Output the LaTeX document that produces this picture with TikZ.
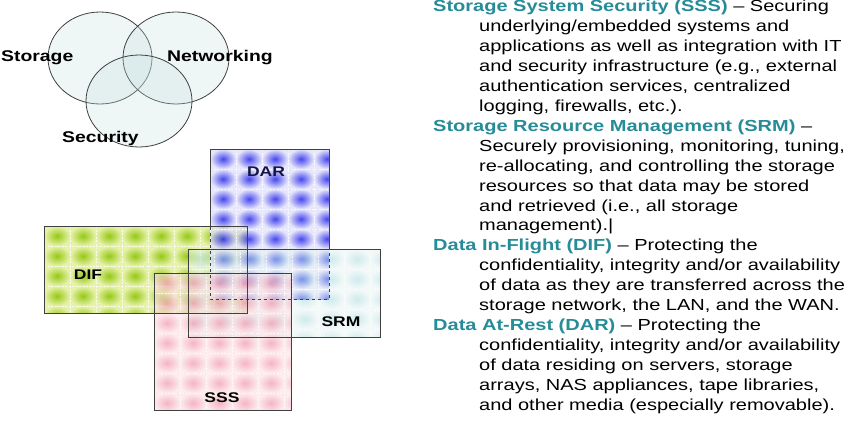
\documentclass[tikz,border=0pt]{standalone}
\usepackage{fontspec}
\setmainfont{Liberation Sans}[FakeStretch=1.25]
\definecolor{headc}{RGB}{38,140,152}
\definecolor{darin}{RGB}{25,25,235}
\definecolor{darout}{RGB}{225,225,250}
\definecolor{difin}{RGB}{150,200,20}
\definecolor{difout}{RGB}{230,242,170}
\definecolor{srmin}{RGB}{160,215,220}
\definecolor{srmout}{RGB}{232,244,244}
\definecolor{sssin}{RGB}{240,140,165}
\definecolor{sssout}{RGB}{252,225,230}
\definecolor{circfill}{RGB}{200,225,225}
\newcommand{\cellpat}[6]{%
  \begin{scope}
    \clip (#1,#2) rectangle (#3,#4);
    \pgfmathtruncatemacro\nxx{ceil((#3-#1)/26)}
    \pgfmathtruncatemacro\nyy{ceil((#4-#2)/20)}
    \foreach \i in {0,...,\nxx}{
      \foreach \j in {0,...,\nyy}{
        \shade[inner color=#5, outer color=#6] ({#1+\i*26},{#2+\j*20}) rectangle ++(26,20);
      }
    }
    \foreach \i in {0,...,\nxx}{
      \draw[white, line width=0.9pt, dash pattern=on 2pt off 1.5pt, opacity=0.75] ({#1+\i*26},#2) -- ({#1+\i*26},#4);
    }
    \foreach \j in {0,...,\nyy}{
      \draw[white, line width=0.9pt, dash pattern=on 2pt off 1.5pt, opacity=0.75] (#1,{#2+\j*20}) -- (#3,{#2+\j*20});
    }
  \end{scope}}
\tikzset{
  body/.style={anchor=base west, inner sep=0pt, font=\fontsize{16}{19.9}\selectfont},
  venn/.style={draw=black!75, line width=0.8pt, fill=circfill, fill opacity=0.28},
  vlabel/.style={inner sep=0pt, anchor=base west, font=\bfseries\fontsize{15.5}{18}\selectfont},
  rlabel/.style={inner sep=0pt, font=\bfseries\fontsize{14}{16}\selectfont},
  rborder/.style={draw=black!75, line width=0.7pt},
}
\newcommand{\hd}[1]{\textcolor{headc}{\bfseries #1}}
\begin{document}
\begin{tikzpicture}[x=1pt,y=-1pt]
\useasboundingbox (0,0) rectangle (864,420);
\fill[white] (0,0) rectangle (864,420);

% Venn circles
\draw[venn] (100,58) ellipse [x radius=52, y radius=46];
\draw[venn] (176,58) ellipse [x radius=53, y radius=46];
\draw[venn] (139,101) ellipse [x radius=53, y radius=46];
\node[vlabel] (storage) at (1,62) {Storage};
\node[vlabel] (networking) at (167,62) {Networking};
\node[vlabel] (security) at (62,142) {Security};

% Rectangles
\cellpat{44}{226}{247}{313}{difin}{difout}
\begin{scope}[opacity=0.8]
\cellpat{210}{149}{329}{299}{darin}{darout}
\end{scope}
\begin{scope}[opacity=0.5]
\cellpat{188}{249}{380}{337}{srmin}{srmout}
\end{scope}
\begin{scope}[opacity=0.65]
\cellpat{154}{273}{291}{410}{sssin}{sssout}
\end{scope}
\draw[rborder] (44,226) rectangle (247,313);
\draw[rborder, dashed] (210,149) rectangle (329,299);
\draw[rborder] (210,149) -- (329,149) -- (329,249);
\draw[rborder] (210,149) -- (210,226);
\draw[rborder] (188,249) rectangle (380,337);
\draw[rborder] (154,273) rectangle (291,410);
\node[rlabel, text={rgb,255:red,20;green,20;blue,70}] (dar) at (266,172) {DAR};
\node[rlabel] (dif) at (88,275) {DIF};
\node[rlabel] (srm) at (341,322) {SRM};
\node[rlabel] (sss) at (222,398) {SSS};

% Text
\node[body] (t0) at (433,12.0) {\hd{Storage System Security (SSS)} – Securing};
\node[body] (t1) at (479,31.9) {underlying/embedded systems and};
\node[body] (t2) at (479,51.8) {applications as well as integration with IT};
\node[body] (t3) at (479,71.7) {and security infrastructure (e.g., external};
\node[body] (t4) at (479,91.6) {authentication services, centralized};
\node[body] (t5) at (479,111.5) {logging, firewalls, etc.).};
\node[body] (t6) at (433,131.4) {\hd{Storage Resource Management (SRM)} –};
\node[body] (t7) at (479,151.3) {Securely provisioning, monitoring, tuning,};
\node[body] (t8) at (479,171.2) {re-allocating, and controlling the storage};
\node[body] (t9) at (479,191.1) {resources so that data may be stored};
\node[body] (t10) at (479,211.0) {and retrieved (i.e., all storage};
\node[body] (t11) at (479,230.9) {management).|};
\node[body] (t12) at (433,250.8) {\hd{Data In-Flight (DIF)} – Protecting the};
\node[body] (t13) at (479,270.7) {confidentiality, integrity and/or availability};
\node[body] (t14) at (479,290.6) {of data as they are transferred across the};
\node[body] (t15) at (479,310.5) {storage network, the LAN, and the WAN.};
\node[body] (t16) at (433,330.4) {\hd{Data At-Rest (DAR)} – Protecting the};
\node[body] (t17) at (479,350.3) {confidentiality, integrity and/or availability};
\node[body] (t18) at (479,370.2) {of data residing on servers, storage};
\node[body] (t19) at (479,390.1) {arrays, NAS appliances, tape libraries,};
\node[body] (t20) at (479,410.0) {and other media (especially removable).};
\end{tikzpicture}
\end{document}
